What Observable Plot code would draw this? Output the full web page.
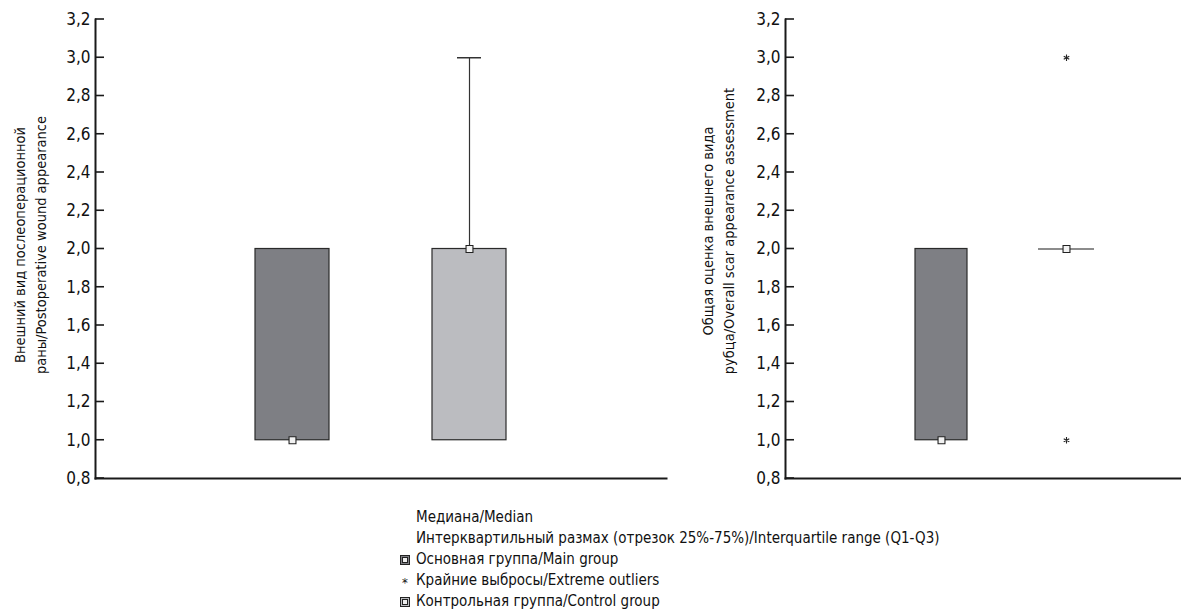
<!DOCTYPE html>
<html>
<head>
<meta charset="utf-8">
<script src="https://cdn.jsdelivr.net/npm/d3@7"></script>
<script src="https://cdn.jsdelivr.net/npm/@observablehq/plot@0.6"></script>
<style>
  body { margin: 0; background: #fff; font-family: "Liberation Sans Narrow", "Arial Narrow", "DejaVu Sans Condensed", sans-serif; }
  #charts { display: flex; flex-direction: row; }
  #legend { margin-left: 398px; margin-top: 17px; font-size: 15px; color: #111; line-height: 21px; }
  .row { display: flex; align-items: center; height: 21px; }
  .ic { width: 14px; display: inline-flex; justify-content: center; align-items: center; margin-right: 4px; }
  .sq { width: 10px; height: 10px; border: 1px solid #222; display: inline-flex; justify-content: center; align-items: center; box-sizing: border-box; }
  .sq i { width: 4px; height: 4px; border: 1px solid #222; display: block; }
</style>
</head>
<body>
<div id="charts"></div>
<div id="legend"></div>
<script>
const groups = ["Основная группа/Main group", "Контрольная группа/Control group"];
const groupColors = ["#7e7f84", "#bbbcc0"];

// Chart 1: postoperative wound appearance
const woundQ1 = [1.0, 1.0];
const woundQ3 = [2.0, 2.0];
const woundMedian = [1.0, 2.0];
const woundMax = [2.0, 3.0];

// Chart 2: overall scar appearance
const scarQ1 = [1.0, 2.0];
const scarQ3 = [2.0, 2.0];
const scarMedian = [1.0, 2.0];
const outlierGroup = [groups[1], groups[1]];
const outlierValue = [1.0, 3.0];

const yTicks = [0.8, 1.0, 1.2, 1.4, 1.6, 1.8, 2.0, 2.2, 2.4, 2.6, 2.8, 3.0, 3.2];
const yLabel1 = "Внешний вид послеоперационной\nраны/Postoperative wound appearance";
const yLabel2 = "Общая оценка внешнего вида\nрубца/Overall scar appearance assessment";

const legendItems = [
  {icon: "none", text: "Медиана/Median"},
  {icon: "none", text: "Интерквартильный размах (отрезок 25%-75%)/Interquartile range (Q1-Q3)"},
  {icon: "main", text: "Основная группа/Main group"},
  {icon: "star", text: "Крайние выбросы/Extreme outliers"},
  {icon: "control", text: "Контрольная группа/Control group"}
];

const fmt = d => d.toFixed(1).replace(".", ",");
const font = '"Liberation Sans Narrow", "Arial Narrow", "DejaVu Sans Condensed", sans-serif';

function build(q1, q3, med, max, outG, outV, opts) {
  const boxes = groups.map((g, i) => ({g, q1: q1[i], q3: q3[i], med: med[i], max: max ? max[i] : q3[i], color: groupColors[i]}));
  const outliers = outG.map((g, i) => ({g, v: outV[i]}));
  const svg = Plot.plot({
    width: opts.width,
    height: 490,
    marginLeft: opts.marginLeft,
    marginRight: opts.marginRight,
    marginTop: 19,
    marginBottom: 12,
    style: {fontFamily: font, fontSize: "17px", color: "#111", background: "#fff"},
    x: {domain: groups, paddingInner: opts.pi, paddingOuter: opts.po, align: opts.align, axis: null},
    y: {domain: [0.8, 3.2], ticks: yTicks, tickFormat: fmt},
    marks: [
      Plot.axisY({ticks: yTicks, tickFormat: fmt, tickSize: 0, tickPadding: 5, label: null, fontSize: 17}),
      Plot.text([opts.label], {frameAnchor: "left", textAnchor: "middle", rotate: -90, dx: opts.labelDx, dy: opts.labelDy, fontSize: 14.5, lineHeight: 1.45, fill: "#111"}),
      Plot.ruleX(boxes.filter(d => d.max > d.q3), {x: "g", y1: "q3", y2: "max", stroke: "#333", strokeWidth: 1.2}),
      Plot.tickY(boxes.filter(d => d.max > d.q3), {x: "g", y: "max", stroke: "#333", strokeWidth: 1.5, insetLeft: opts.capInset, insetRight: opts.capInset}),
      Plot.barY(boxes.filter(d => d.q3 > d.q1), {x: "g", y1: "q1", y2: "q3", fill: "color", stroke: "#2a2a2a", strokeWidth: 1.2}),
      Plot.tickY(boxes.filter(d => d.q3 === d.q1), {x: "g", y: "q3", stroke: "#666", strokeWidth: 1.5, insetLeft: -2, insetRight: -2}),
      Plot.dot(boxes, {x: "g", y: "med", symbol: "square", r: 3.9, fill: "#f2f2f2", stroke: "#222", strokeWidth: 1.1}),
      Plot.dot(outliers, {x: "g", y: "v", symbol: "asterisk", r: 3, stroke: "#222", strokeWidth: 1.1}),
      Plot.frame({anchor: "left", stroke: "#1a1a1a", strokeWidth: 2}),
      Plot.frame({anchor: "bottom", stroke: "#1a1a1a", strokeWidth: 2})
    ]
  });
  // inward-pointing tick marks placed with Plot's own y scale
  const ys = svg.scale("y");
  const yFn = ys && ys.apply ? ys.apply : d3.scaleLinear(ys.domain, ys.range);
  d3.select(svg).append("g").attr("stroke", "#1a1a1a").attr("stroke-width", 1.6)
    .selectAll("line").data(yTicks).join("line")
    .attr("x1", opts.marginLeft).attr("x2", opts.marginLeft + 9)
    .attr("y1", d => yFn(d)).attr("y2", d => yFn(d));
  return svg;
}

const c1 = build(woundQ1, woundQ3, woundMedian, woundMax, [], [],
  {width: 680, marginLeft: 95, marginRight: 14, pi: 0.584, po: 0.899, align: 0.5, capInset: 25, label: yLabel1, labelDx: -67, labelDy: -4});
const c2 = build(scarQ1, scarQ3, scarMedian, null, outlierGroup, outlierValue,
  {width: 501, marginLeft: 105, marginRight: 0, pi: 0.587, po: 0.869, align: 0.594, capInset: 20, label: yLabel2, labelDx: -69, labelDy: -18});
document.getElementById("charts").append(c1, c2);

const legend = d3.select("#legend");
for (const item of legendItems) {
  const row = legend.append("div").attr("class", "row");
  const ic = row.append("span").attr("class", "ic");
  if (item.icon === "main" || item.icon === "control") {
    ic.append("span").attr("class", "sq").style("background", item.icon === "main" ? groupColors[0] : groupColors[1])
      .append("i").style("background", "#eee");
  } else if (item.icon === "star") {
    ic.append("span").style("font-size", "13px").style("line-height", "13px").style("padding-top", "4px").text("*");
  }
  row.append("span").text(item.text);
}
</script>
</body>
</html>
